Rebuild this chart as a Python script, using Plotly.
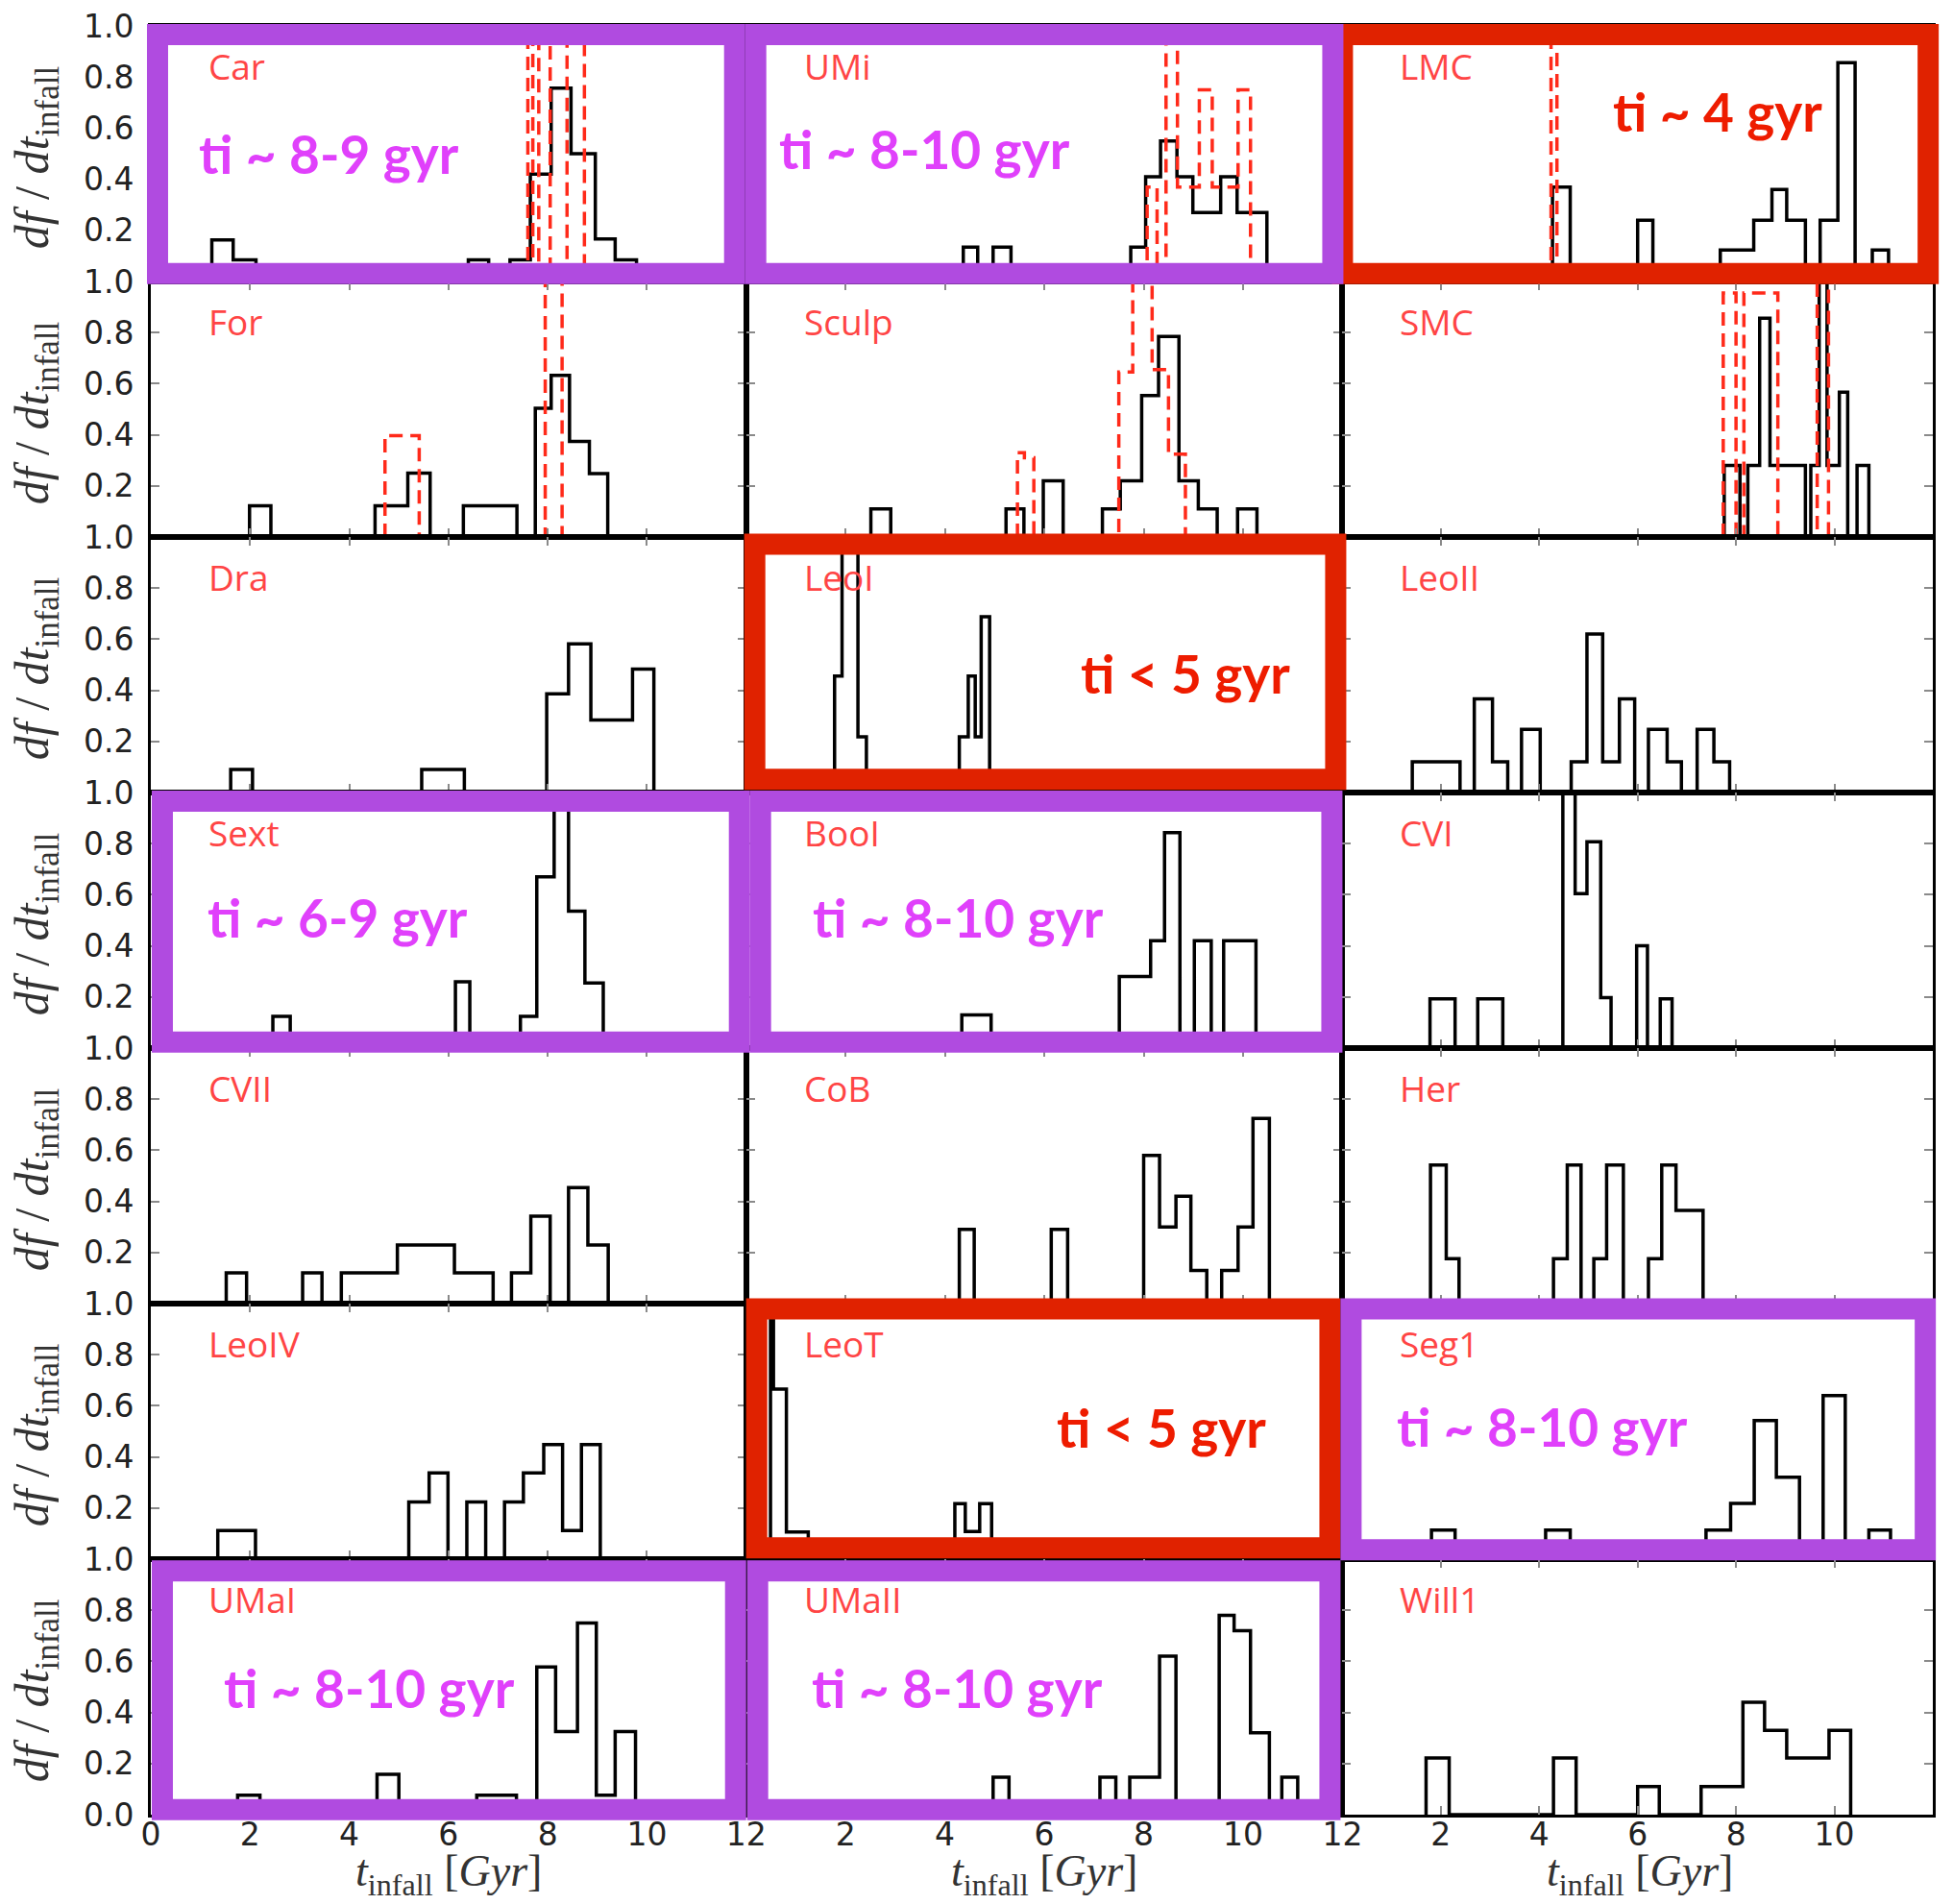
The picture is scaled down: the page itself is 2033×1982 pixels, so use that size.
import plotly.graph_objects as go

# ---------------------------------------------------------------------------
# Infall-time distributions of Milky Way satellites (df/dt_infall vs t_infall)
# Black: step histogram of the main sample, red dashed: comparison sample.
# Edges in Gyr, heights in df/dt_infall.
# ---------------------------------------------------------------------------

PANEL_NAMES = ["Car", "UMi", "LMC",
               "For", "Sculp", "SMC",
               "Dra", "LeoI", "LeoII",
               "Sext", "BooI", "CVI",
               "CVII", "CoB", "Her",
               "LeoIV", "LeoT", "Seg1",
               "UMaI", "UMaII", "Will1"]

CAR_EDGES = [1.23, 1.66, 2.12, 6.4, 6.81, 7.24, 7.65, 8.07, 8.47, 8.96, 9.36, 9.79]
CAR_HEIGHTS = [0.163, 0.085, 0, 0.085, 0, 0.085, 0.42, 0.757, 0.5, 0.167, 0.085]
CAR_RED_EDGES = [7.6, 7.7, 7.82, 8.05, 8.39, 8.74]
CAR_RED_HEIGHTS = [3, 0, 3, 0, 3]

UMI_EDGES = [4.37, 4.66, 4.97, 5.33, 7.74, 8.04, 8.34, 8.67, 8.99, 9.55, 9.88, 10.48]
UMI_HEIGHTS = [0.135, 0, 0.135, 0, 0.135, 0.41, 0.55, 0.41, 0.27, 0.41, 0.27]
UMI_RED_EDGES = [8.07, 8.27, 8.45, 8.68, 9.12, 9.38, 9.9, 10.15]
UMI_RED_HEIGHTS = [0.37, 0, 3, 0.37, 0.75, 0.37, 0.75]

LMC_EDGES = [4.27, 4.63, 6.0, 6.31, 7.68, 8.36, 8.73, 9.03, 9.41, 9.71, 10.07, 10.42, 10.77, 11.1]
LMC_HEIGHTS = [0.37, 0, 0.24, 0, 0.123, 0.24, 0.36, 0.24, 0, 0.24, 0.857, 0, 0.123]
LMC_RED_EDGES = [4.24, 4.36]
LMC_RED_HEIGHTS = [3]

FOR_EDGES = [1.99, 2.42, 4.52, 5.18, 5.63, 6.3, 7.38, 7.75, 8.07, 8.44, 8.84, 9.21]
FOR_HEIGHTS = [0.122, 0, 0.122, 0.25, 0, 0.122, 0, 0.504, 0.633, 0.374, 0.248]
FOR_RED_EDGES = [4.72, 5.41, 7.95, 8.29]
FOR_RED_HEIGHTS = [0.397, 0, 3]

SCULP_EDGES = [2.51, 2.91, 5.23, 5.59, 5.98, 6.38, 7.17, 7.53, 7.96, 8.3, 8.71, 9.1, 9.48, 9.89, 10.28]
SCULP_HEIGHTS = [0.11, 0, 0.11, 0, 0.22, 0, 0.11, 0.22, 0.554, 0.785, 0.22, 0.11, 0, 0.11]
SCULP_RED_EDGES = [5.46, 5.6, 5.79, 7.5, 7.78, 8.17, 8.5, 8.84]
SCULP_RED_HEIGHTS = [0.33, 0.31, 0, 0.646, 3, 0.655, 0.324]

SMC_EDGES = [7.76, 8.08, 8.24, 8.48, 8.69, 9.41, 9.52, 9.69, 9.85, 10.1, 10.27, 10.46, 10.7]
SMC_HEIGHTS = [0.28, 0, 0.28, 0.856, 0.28, 0, 0.28, 3, 0.28, 0.567, 0, 0.28]
SMC_RED_EDGES = [7.74, 8.0, 8.16, 8.85, 9.65, 9.88]
SMC_RED_HEIGHTS = [0.955, 0, 0.955, 0, 3]

DRA_EDGES = [1.61, 2.05, 5.46, 6.32, 7.98, 8.42, 8.87, 9.71, 10.14]
DRA_HEIGHTS = [0.09, 0, 0.09, 0, 0.386, 0.582, 0.284, 0.483]

LEOI_EDGES = [1.78, 1.93, 2.25, 2.42, 4.29, 4.47, 4.61, 4.73, 4.9]
LEOI_HEIGHTS = [0.456, 3, 0.218, 0, 0.218, 0.456, 0.218, 0.688]

LEOII_EDGES = [1.42, 2.39, 2.68, 3.05, 3.36, 3.64, 4.02, 4.65, 4.97, 5.29, 5.63, 5.94,
               6.22, 6.6, 6.89, 7.21, 7.55, 7.87]
LEOII_HEIGHTS = [0.12, 0, 0.367, 0.12, 0, 0.247, 0, 0.12, 0.62, 0.12, 0.367, 0,
                 0.247, 0.12, 0, 0.247, 0.12]

SEXT_EDGES = [2.46, 2.81, 6.14, 6.43, 7.45, 7.78, 8.13, 8.42, 8.75, 9.12]
SEXT_HEIGHTS = [0.124, 0, 0.259, 0, 0.124, 0.67, 3, 0.536, 0.255]

BOOI_EDGES = [4.34, 4.93, 7.51, 8.14, 8.42, 8.73, 9.02, 9.36, 9.61, 10.26]
BOOI_HEIGHTS = [0.13, 0, 0.28, 0.42, 0.843, 0, 0.42, 0, 0.42]

CVI_EDGES = [1.78, 2.29, 2.75, 3.26, 4.48, 4.73, 4.97, 5.25, 5.46, 5.98, 6.2, 6.46, 6.7]
CVI_HEIGHTS = [0.193, 0, 0.193, 0, 3, 0.604, 0.807, 0.197, 0, 0.4, 0, 0.193]

CVII_EDGES = [1.52, 1.93, 3.06, 3.45, 3.84, 4.97, 6.12, 6.9, 7.27, 7.66, 8.05, 8.42, 8.81, 9.22]
CVII_HEIGHTS = [0.12, 0, 0.12, 0, 0.12, 0.229, 0.12, 0, 0.12, 0.342, 0, 0.454, 0.229]

COB_EDGES = [4.29, 4.59, 6.14, 6.47, 8.0, 8.32, 8.65, 8.95, 9.27, 9.57, 9.9, 10.2, 10.53]
COB_HEIGHTS = [0.29, 0, 0.29, 0, 0.58, 0.3, 0.42, 0.13, 0, 0.13, 0.3, 0.725]

HER_EDGES = [1.79, 2.11, 2.37, 4.29, 4.57, 4.85, 5.11, 5.37, 5.71, 6.22, 6.49, 6.78, 7.33]
HER_HEIGHTS = [0.542, 0.176, 0, 0.176, 0.542, 0, 0.176, 0.542, 0, 0.176, 0.542, 0.365]

LEOIV_EDGES = [1.35, 2.11, 5.2, 5.61, 5.99, 6.37, 6.75, 7.13, 7.51, 7.92, 8.3, 8.68, 9.06]
LEOIV_HEIGHTS = [0.112, 0, 0.224, 0.337, 0, 0.224, 0, 0.224, 0.337, 0.448, 0.112, 0.448]

LEOT_EDGES = [0.49, 0.55, 0.81, 1.25, 4.2, 4.41, 4.7, 4.94]
LEOT_HEIGHTS = [3, 0.665, 0.106, 0, 0.217, 0.108, 0.217]

SEG1_EDGES = [1.81, 2.29, 4.13, 4.63, 7.39, 7.89, 8.37, 8.82, 9.29, 9.77, 10.22, 10.7, 11.14]
SEG1_HEIGHTS = [0.114, 0, 0.114, 0, 0.114, 0.218, 0.542, 0.32, 0, 0.64, 0, 0.114]

UMAI_EDGES = [1.75, 2.2, 4.56, 5.0, 6.57, 7.37, 7.78, 8.16, 8.6, 8.98, 9.36, 9.77]
UMAI_HEIGHTS = [0.076, 0, 0.158, 0, 0.076, 0, 0.578, 0.325, 0.75, 0.076, 0.325]

UMAII_EDGES = [4.97, 5.29, 7.12, 7.44, 7.72, 8.32, 8.65, 9.52, 9.82, 10.15, 10.53, 10.78, 11.1]
UMAII_HEIGHTS = [0.146, 0, 0.146, 0, 0.146, 0.62, 0, 0.78, 0.72, 0.32, 0, 0.146]

WILL1_EDGES = [1.7, 2.17, 4.29, 4.75, 6.0, 6.44, 7.29, 8.14, 8.58, 9.03, 9.89, 10.33]
WILL1_HEIGHTS = [0.222, 0, 0.222, 0, 0.11, 0, 0.11, 0.44, 0.33, 0.222, 0.33]

BLACK_HISTS = {
    "Car": (CAR_EDGES, CAR_HEIGHTS), "UMi": (UMI_EDGES, UMI_HEIGHTS),
    "LMC": (LMC_EDGES, LMC_HEIGHTS), "For": (FOR_EDGES, FOR_HEIGHTS),
    "Sculp": (SCULP_EDGES, SCULP_HEIGHTS), "SMC": (SMC_EDGES, SMC_HEIGHTS),
    "Dra": (DRA_EDGES, DRA_HEIGHTS), "LeoI": (LEOI_EDGES, LEOI_HEIGHTS),
    "LeoII": (LEOII_EDGES, LEOII_HEIGHTS), "Sext": (SEXT_EDGES, SEXT_HEIGHTS),
    "BooI": (BOOI_EDGES, BOOI_HEIGHTS), "CVI": (CVI_EDGES, CVI_HEIGHTS),
    "CVII": (CVII_EDGES, CVII_HEIGHTS), "CoB": (COB_EDGES, COB_HEIGHTS),
    "Her": (HER_EDGES, HER_HEIGHTS), "LeoIV": (LEOIV_EDGES, LEOIV_HEIGHTS),
    "LeoT": (LEOT_EDGES, LEOT_HEIGHTS), "Seg1": (SEG1_EDGES, SEG1_HEIGHTS),
    "UMaI": (UMAI_EDGES, UMAI_HEIGHTS), "UMaII": (UMAII_EDGES, UMAII_HEIGHTS),
    "Will1": (WILL1_EDGES, WILL1_HEIGHTS),
}
RED_HISTS = {
    "Car": (CAR_RED_EDGES, CAR_RED_HEIGHTS), "UMi": (UMI_RED_EDGES, UMI_RED_HEIGHTS),
    "LMC": (LMC_RED_EDGES, LMC_RED_HEIGHTS), "For": (FOR_RED_EDGES, FOR_RED_HEIGHTS),
    "Sculp": (SCULP_RED_EDGES, SCULP_RED_HEIGHTS), "SMC": (SMC_RED_EDGES, SMC_RED_HEIGHTS),
}

# highlighted panels: (panel, label, colour group, x [Gyr], y)
HIGHLIGHTS = [
    ("Car", "ti ~ 8-9 gyr", "purple", 0.92, 0.50),
    ("UMi", "ti ~ 8-10 gyr", "purple", 0.62, 0.52),
    ("LMC", "ti ~ 4 gyr", "red", 5.45, 0.665),
    ("LeoI", "ti &lt; 5 gyr", "red", 6.70, 0.465),
    ("Sext", "ti ~ 6-9 gyr", "purple", 1.10, 0.51),
    ("BooI", "ti ~ 8-10 gyr", "purple", 1.30, 0.51),
    ("LeoT", "ti &lt; 5 gyr", "red", 6.22, 0.515),
    ("Seg1", "ti ~ 8-10 gyr", "purple", 1.06, 0.52),
    ("UMaI", "ti ~ 8-10 gyr", "purple", 1.44, 0.495),
    ("UMaII", "ti ~ 8-10 gyr", "purple", 1.28, 0.495),
]

X_TICKS = [0, 2, 4, 6, 8, 10, 12]
Y_TICKS = [0.0, 0.2, 0.4, 0.6, 0.8, 1.0]

# ---------------------------------------------------------------------------
# page geometry (pixels on the final page)
W, H = 2033, 1982
# the page sits slightly inset and scaled inside the window; these map
# page positions back into figure pixels
PAGE_OFF_X, PAGE_SCALE_X = 9.7, 0.9868
PAGE_OFF_Y, PAGE_SCALE_Y = 17.9, 0.9815


def fx(px):
    return (px - PAGE_OFF_X) / PAGE_SCALE_X / W


def fy(py):
    return 1 - (py - PAGE_OFF_Y) / PAGE_SCALE_Y / H


def clamp01(v):
    return min(1.0, max(0.0, v))


COL_X = [(157, 778), (778, 1400), (1400, 2020)]
ROW_TOP, ROW_H = 26.0, 266.3

BOX_PURPLE = "#B04BE0"
BOX_RED = "#E02200"
TEXT_PURPLE = "#E040FB"
TEXT_RED = "#EE1C00"
NAME_RED = "#FF4545"

# outline frames in page pixels: (x0, y0, x1, y1, colour)
FRAMES = {
    "LMC": (1389, 24, 2022, 295, BOX_RED),
    "LeoI": (776, 555, 1404, 822, BOX_RED),
    "LeoT": (778, 1352, 1398, 1623, BOX_RED),
    "Car": (153, 24, 777, 295, BOX_PURPLE),
    "UMi": (777, 24, 1401, 295, BOX_PURPLE),
    "Sext": (158, 823, 782, 1096, BOX_PURPLE),
    "BooI": (782, 823, 1400, 1096, BOX_PURPLE),
    "Seg1": (1398, 1352, 2019, 1625, BOX_PURPLE),
    "UMaI": (158, 1625, 778, 1896, BOX_PURPLE),
    "UMaII": (779, 1625, 1398, 1896, BOX_PURPLE),
}
FRAME_W = 22


def step_outline(edges, heights):
    """Outline of a step histogram, to be drawn with shape='hv'."""
    xs = [edges[0]] + list(edges)
    ys = [0] + list(heights) + [0]
    return xs, ys


fig = go.Figure()
layout = dict(
    width=W, height=H, autosize=False,
    margin=dict(l=0, r=0, t=0, b=0),
    paper_bgcolor="white", plot_bgcolor="white",
    showlegend=False,
)
annotations = []
shapes = []

for i, name in enumerate(PANEL_NAMES):
    r, c = divmod(i, 3)
    sfx = "" if i == 0 else str(i + 1)
    xa, ya = "x" + sfx, "y" + sfx
    x0, x1 = COL_X[c]
    top = ROW_TOP + r * ROW_H
    bot = top + ROW_H

    xticktext = [str(v) for v in X_TICKS]
    if c > 0:
        xticktext[0] = ""
    yticktext = ["%.1f" % v for v in Y_TICKS]
    if r < 6:
        yticktext[0] = ""

    common = dict(
        ticks="inside", ticklen=9, tickwidth=2, tickcolor="#8a8a8a",
        showline=True, linecolor="black", linewidth=3, mirror="ticks",
        showgrid=False, zeroline=False, fixedrange=True,
        tickfont=dict(family="DejaVu Sans", size=33, color="#222222"),
    )
    layout["xaxis" + sfx] = dict(
        common, domain=[clamp01(fx(x0)), clamp01(fx(x1))], anchor=ya, range=[0, 12],
        tickmode="array", tickvals=X_TICKS, ticktext=xticktext,
        showticklabels=(r == 6), ticklabelstandoff=-11,
    )
    layout["yaxis" + sfx] = dict(
        common, domain=[clamp01(fy(bot)), clamp01(fy(top))], anchor=xa, range=[0, 1.0],
        tickmode="array", tickvals=Y_TICKS, ticktext=yticktext,
        showticklabels=(c == 0), ticklabelstandoff=8,
    )

    edges, heights = BLACK_HISTS[name]
    hx, hy = step_outline(edges, heights)
    fig.add_trace(go.Scatter(
        x=hx, y=hy, mode="lines", xaxis=xa, yaxis=ya, hoverinfo="skip",
        line=dict(color="black", width=3.5, shape="hv"),
    ))
    if name in RED_HISTS:
        redges, rheights = RED_HISTS[name]
        rx, ry = step_outline(redges, rheights)
        fig.add_trace(go.Scatter(
            x=rx, y=ry, mode="lines", xaxis=xa, yaxis=ya, hoverinfo="skip",
            line=dict(color="#FF2A1A", width=3.5, shape="hv", dash="14px,8px"),
        ))

    # satellite name
    annotations.append(dict(
        text=name, xref=xa, yref=ya, x=1.12, y=0.845,
        xanchor="left", yanchor="middle", showarrow=False,
        font=dict(family="Open Sans", size=37, color=NAME_RED),
    ))

    # y-axis title for each row
    if c == 0:
        annotations.append(dict(
            text="<i>df</i> / <i>dt</i><sub>infall</sub>",
            xref="paper", yref="paper", x=fx(37), y=fy(top + ROW_H / 2 + 4),
            xanchor="center", yanchor="middle", textangle=-90, showarrow=False,
            font=dict(family="Liberation Serif", size=50, color="#333333"),
        ))
    # x-axis titles under the bottom row
    if r == 6:
        annotations.append(dict(
            text="<i>t</i><sub>infall</sub> [<i>Gyr</i>]",
            xref="paper", yref="paper", x=fx((x0 + x1) / 2), y=fy(1952),
            xanchor="center", yanchor="middle", showarrow=False,
            font=dict(family="Liberation Serif", size=46, color="#333333"),
        ))

# coloured frames around highlighted panels (red first, purple on top)
for name, (bx0, by0, bx1, by1, col) in FRAMES.items():
    t = FRAME_W
    shapes.append(dict(
        type="rect", xref="paper", yref="paper", layer="above",
        x0=fx(bx0 + t / 2), x1=fx(bx1 - t / 2),
        y0=fy(by1 - t / 2), y1=fy(by0 + t / 2),
        line=dict(color=col, width=t), fillcolor="rgba(0,0,0,0)",
    ))

for name, label, group, tx, ty in HIGHLIGHTS:
    i = PANEL_NAMES.index(name)
    sfx = "" if i == 0 else str(i + 1)
    annotations.append(dict(
        text="<b>%s</b>" % label, xref="x" + sfx, yref="y" + sfx, x=tx, y=ty,
        xanchor="left", yanchor="middle", showarrow=False,
        font=dict(family="Lato", size=55, weight=900,
                  color=TEXT_PURPLE if group == "purple" else TEXT_RED),
    ))

layout["annotations"] = annotations
layout["shapes"] = shapes
fig.update_layout(**layout)
fig.write_html("out.html")
